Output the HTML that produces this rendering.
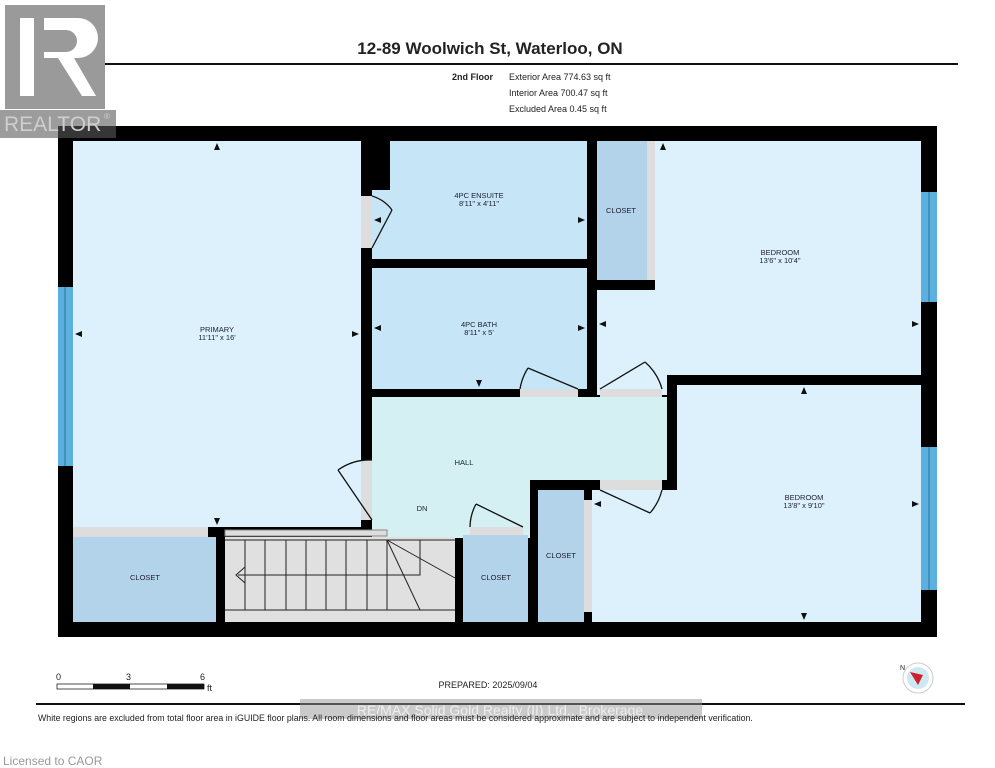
<!DOCTYPE html>
<html><head><meta charset="utf-8"><style>
html,body{margin:0;padding:0;background:#fff;}
svg{display:block;font-family:"Liberation Sans",sans-serif;}
</style></head><body>
<svg width="995" height="768" viewBox="0 0 995 768" xmlns="http://www.w3.org/2000/svg">
<rect width="995" height="768" fill="#fff"/>
<!-- header -->
<text x="490" y="54" font-size="17" font-weight="bold" text-anchor="middle" fill="#222">12-89 Woolwich St, Waterloo, ON</text>
<line x1="36" y1="64" x2="958" y2="64" stroke="#111" stroke-width="2"/>
<text x="452" y="80" font-size="9" font-weight="bold" fill="#222">2nd Floor</text>
<text x="509" y="80" font-size="9" fill="#222">Exterior Area 774.63 sq ft</text>
<text x="509" y="96" font-size="9" fill="#222">Interior Area 700.47 sq ft</text>
<text x="509" y="112" font-size="9" fill="#222">Excluded Area 0.45 sq ft</text>
<!-- outer walls -->
<rect x="58" y="126" width="879" height="511" fill="#000"/>
<!-- rooms -->
<rect x="73" y="141" width="288" height="386" fill="#dcf1fc"/>
<rect x="372" y="141" width="215" height="118" fill="#c6e6f8"/>
<rect x="361" y="141" width="29" height="49" fill="#000"/>
<rect x="372" y="268" width="215" height="121" fill="#c6e6f8"/>
<rect x="597" y="141" width="50" height="139" fill="#b3d3ea"/>
<rect x="655" y="141" width="266" height="234" fill="#dcf1fc"/>
<rect x="597" y="290" width="324" height="85" fill="#dcf1fc"/>
<rect x="597" y="375" width="70" height="20" fill="#dcf1fc"/>
<rect x="372" y="397" width="295" height="83" fill="#d5f0f3"/>
<rect x="372" y="480" width="158" height="58" fill="#d5f0f3"/>
<rect x="677" y="385" width="244" height="237" fill="#dcf1fc"/>
<rect x="592" y="490" width="90" height="132" fill="#dcf1fc"/>
<rect x="73" y="537" width="143" height="85" fill="#b3d3ea"/>
<rect x="225" y="537" width="230" height="85" fill="#e0e0e0"/>
<rect x="463" y="535" width="65" height="87" fill="#b3d3ea"/>
<rect x="538" y="490" width="46" height="132" fill="#b3d3ea"/>
<!-- door openings (gray) -->
<rect x="361" y="196" width="11" height="52" fill="#ddd"/>
<rect x="361" y="460" width="11" height="60" fill="#ddd"/>
<rect x="520" y="389" width="58" height="8" fill="#ddd"/>
<rect x="600" y="389" width="62" height="8" fill="#ddd"/>
<rect x="600" y="480" width="62" height="10" fill="#ddd"/>
<rect x="470" y="527" width="53" height="8" fill="#ddd"/>
<rect x="73" y="527" width="135" height="10" fill="#ddd"/>
<rect x="647" y="141" width="8" height="139" fill="#ddd"/>
<rect x="584" y="500" width="8" height="112" fill="#ddd"/>
<!-- door swings -->
<g stroke="#111" stroke-width="1.3" fill="none">
<line x1="372" y1="248" x2="392" y2="210"/><path d="M392 210 A38 38 0 0 0 372 196"/>
<line x1="372" y1="520" x2="338" y2="470"/><path d="M338 470 A55 55 0 0 1 372 460"/>
<line x1="578" y1="389" x2="528" y2="368"/><path d="M528 368 A55 55 0 0 0 520 389"/>
<line x1="600" y1="389" x2="645" y2="362"/><path d="M645 362 A55 55 0 0 1 662 389"/>
<line x1="600" y1="490" x2="650" y2="513"/><path d="M650 513 A55 55 0 0 0 662 490"/>
<line x1="523" y1="527" x2="476" y2="504"/><path d="M476 504 A50 50 0 0 0 470 527"/>
</g>
<!-- stairs -->
<g stroke="#222" stroke-width="1" fill="none">
<line x1="225" y1="540" x2="455" y2="540"/>
<line x1="225" y1="610" x2="455" y2="610"/>
<line x1="245" y1="540" x2="245" y2="610"/><line x1="265" y1="540" x2="265" y2="610"/>
<line x1="286" y1="540" x2="286" y2="610"/><line x1="306" y1="540" x2="306" y2="610"/>
<line x1="326" y1="540" x2="326" y2="610"/><line x1="346" y1="540" x2="346" y2="610"/>
<line x1="367" y1="540" x2="367" y2="610"/><line x1="387" y1="540" x2="387" y2="610"/>
<line x1="387" y1="540" x2="455" y2="578"/><line x1="387" y1="540" x2="420" y2="610"/>
<polyline points="420,540 420,575 238,575"/>
<polyline points="245,567 236,575 245,583"/>
<rect x="225" y="530" width="162" height="6" stroke="#888" fill="#ddd"/>
</g>
<!-- windows -->
<rect x="58" y="287" width="15" height="179" fill="#5bb0dd"/>
<rect x="921" y="192" width="16" height="110" fill="#5bb0dd"/>
<rect x="921" y="447" width="16" height="143" fill="#5bb0dd"/>
<g stroke="#2a6f99" stroke-width="1"><line x1="65" y1="287" x2="65" y2="466"/><line x1="929" y1="192" x2="929" y2="302"/><line x1="929" y1="447" x2="929" y2="590"/></g>
<!-- labels -->
<g font-size="7.5" fill="#223" text-anchor="middle">
<text x="217" y="332">PRIMARY</text><text x="217" y="340">11'11" x 16'</text>
<text x="479" y="198">4PC ENSUITE</text><text x="479" y="206">8'11" x 4'11"</text>
<text x="479" y="327">4PC BATH</text><text x="479" y="335">8'11" x 5'</text>
<text x="621" y="213">CLOSET</text>
<text x="780" y="255">BEDROOM</text><text x="780" y="263">13'6" x 10'4"</text>
<text x="464" y="465">HALL</text>
<text x="422" y="511">DN</text>
<text x="804" y="500">BEDROOM</text><text x="804" y="508">13'8" x 9'10"</text>
<text x="145" y="580">CLOSET</text>
<text x="496" y="580">CLOSET</text>
<text x="561" y="558">CLOSET</text>
</g>
<!-- dimension arrows -->
<g fill="#111">
<path d="M217 143 l-3 7 h6z"/><path d="M217 525 l-3 -7 h6z"/>
<path d="M75 334 l7 -3 v6z"/><path d="M359 334 l-7 -3 v6z"/>
<path d="M374 220 l7 -3 v6z"/><path d="M585 220 l-7 -3 v6z"/>
<path d="M374 328 l7 -3 v6z"/><path d="M585 328 l-7 -3 v6z"/>
<path d="M479 387 l-3 -7 h6z"/>
<path d="M663 143 l-3 7 h6z"/><path d="M599 324 l7 -3 v6z"/><path d="M919 324 l-7 -3 v6z"/>
<path d="M804 387 l-3 7 h6z"/><path d="M804 620 l-3 -7 h6z"/>
<path d="M594 504 l7 -3 v6z"/><path d="M919 504 l-7 -3 v6z"/>
</g>
<!-- REALTOR logo -->
<rect x="5" y="5" width="100" height="104" fill="#9a9a9a"/>
<rect x="20" y="18" width="14" height="78" fill="#fff"/>
<path d="M44 18 h34 a20 20 0 0 1 0 40 h-4 l22 38 h-14 l-24 -38 h-14z M44 30 v22 h22 a11 11 0 0 0 0 -22z" fill="#fff"/>
<rect x="0" y="110" width="116" height="28" fill="rgba(90,90,90,0.6)"/>
<text x="4" y="131" font-size="21" fill="#cfcfcf">REALTOR</text>
<text x="104" y="119" font-size="8" fill="#cfcfcf">®</text>
<!-- scale bar -->
<g font-size="9" fill="#222">
<text x="56" y="680">0</text><text x="126" y="680">3</text><text x="200" y="680">6</text><text x="207" y="691">ft</text>
</g>
<rect x="57" y="684" width="147" height="5" fill="#fff" stroke="#222" stroke-width="0.8"/>
<rect x="93" y="684" width="37" height="5" fill="#111"/>
<rect x="167" y="684" width="37" height="5" fill="#111"/>
<text x="488" y="688" font-size="9" fill="#222" text-anchor="middle">PREPARED: 2025/09/04</text>
<!-- compass -->
<circle cx="918" cy="678" r="15" fill="#fff" stroke="#ccc"/>
<circle cx="918" cy="678" r="11" fill="#cde7f3"/>
<path d="M910 672 l13 3 l-5 10z" fill="#d0202a"/>
<text x="900" y="670" font-size="7" fill="#222">N</text>
<line x1="36" y1="704" x2="965" y2="704" stroke="#111" stroke-width="2"/>
<rect x="300" y="699" width="402" height="20" fill="rgba(150,150,150,0.5)"/>
<text x="500" y="715" font-size="14" fill="#eee" text-anchor="middle">RE/MAX Solid Gold Realty (II) Ltd., Brokerage</text>
<text x="38" y="721" font-size="8.8" fill="#222">White regions are excluded from total floor area in iGUIDE floor plans. All room dimensions and floor areas must be considered approximate and are subject to independent verification.</text>
<text x="3" y="765" font-size="12" fill="#999">Licensed to CAOR</text>
</svg>
</body></html>
